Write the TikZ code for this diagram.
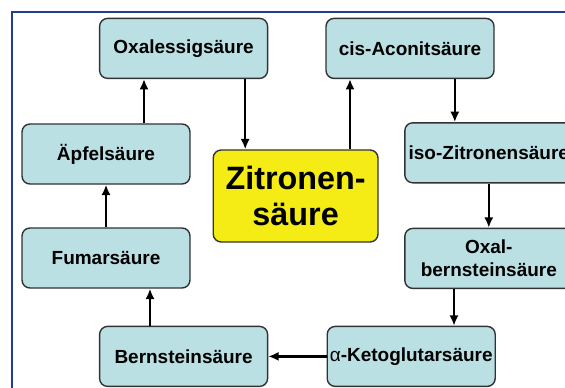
\documentclass[tikz,border=0pt]{standalone}
\usepackage{fontspec}
\setmainfont{Liberation Sans}
\usetikzlibrary{arrows.meta}
\begin{document}
\begin{tikzpicture}

	%DEFINITIONEN
	\tikzstyle{every node}=[font=\bfseries\fontsize{13.5}{16}\selectfont]
	\tikzstyle{kasten} = [draw={rgb,255:red,50; green,50; blue,50}, rounded corners=0.2cm, align=center, line width=0.35mm, fill={rgb,255:red,187; green,224; blue,228}, inner xsep=1pt, minimum width=4.2cm, minimum height=1.5cm]
	\tikzstyle{gelb} = [kasten, fill={rgb,255:red,245; green,236; blue,22}, minimum width=4.12cm, minimum height=2.3cm, font=\bfseries\fontsize{23}{26}\selectfont]
	\tikzstyle{pfeil} = [->, line width=0.6mm, >={Latex[length=2.6mm,width=2.3mm]}]
	\tikzstyle{rahmen} = [draw={rgb,255:red,35; green,58; blue,150}, line width=0.5mm]

	\useasboundingbox (0,0) rectangle (14.125,-9.675);
	\clip (0,0) rectangle (14.125,-9.675);

	%RAHMEN
	\draw[rahmen] (0.3,-0.3) rectangle (15,-11);

	%KAESTEN
	\draw(4.59,-1.21) node[kasten](1){Oxalessigsäure};
	\draw(10.25,-1.21) node[kasten](2){cis-Aconitsäure};
	\draw(12.22,-3.82) node[kasten](3){iso-Zitronensäure};
	\draw(12.22,-6.46) node[kasten](4){Oxal-\\bernsteinsäure};
	\draw(10.28,-8.91) node[kasten](5){{\mdseries α}-Ketoglutarsäure};
	\draw(4.59,-8.91) node[kasten](6){Bernsteinsäure};
	\draw(2.65,-6.45) node[kasten](7){Fumarsäure};
	\draw(2.65,-3.85) node[kasten](8){Äpfelsäure};
	\draw(7.39,-4.9) node[gelb](9){Zitronen-\\säure};

	%PFEILE
	\draw [pfeil] ([xshift=0.95cm]8.north) -- ([xshift=0.95cm]8.north |- 1.south);
	\draw [pfeil] ([xshift=1.54cm]1.south) -- ([xshift=1.54cm]1.south |- 9.north);
	\draw [pfeil] ([xshift=1.36cm]9.north) -- ([xshift=1.36cm]9.north |- 2.south);
	\draw [pfeil] ([xshift=1.12cm]2.south) -- ([xshift=1.12cm]2.south |- 3.north);
	\draw [pfeil] (3.south) -- (4.north);
	\draw [pfeil] ([xshift=-0.87cm]4.south) -- ([xshift=-0.87cm]4.south |- 5.north);
	\draw [pfeil] (5.west) -- (6.east);
	\draw [pfeil] ([xshift=-0.84cm]6.north) -- ([xshift=-0.84cm]6.north |- 7.south);
	\draw [pfeil] (7.north) -- (8.south);
\end{tikzpicture}
\end{document}
